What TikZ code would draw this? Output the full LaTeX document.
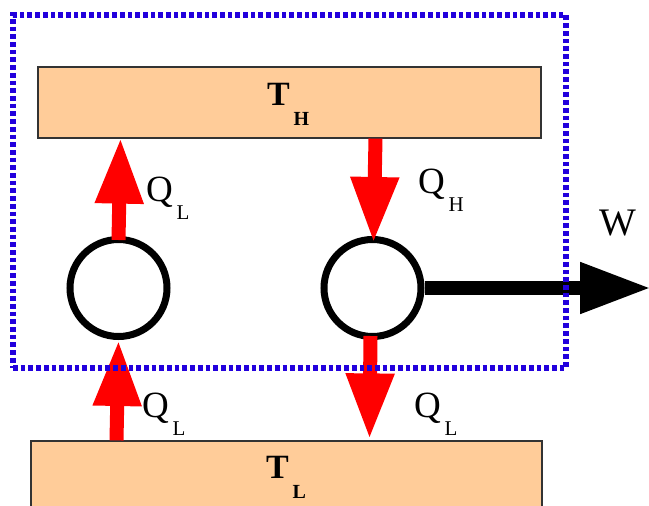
\documentclass[tikz,border=0pt]{standalone}
\usepackage{fontspec}
\setmainfont{Liberation Serif}
\usetikzlibrary{arrows.meta}
\definecolor{peach}{RGB}{255,204,153}
\definecolor{bordblue}{RGB}{34,0,221}
\newcommand\qlab[2]{\fontsize{37}{37}\selectfont #1\hspace{4pt}\raisebox{-18pt}{\fontsize{21}{21}\selectfont #2}}
\newcommand\tlab[2]{\bfseries\fontsize{34}{34}\selectfont #1\hspace{4pt}\raisebox{-20pt}{\fontsize{20}{20}\selectfont #2}}
\tikzset{
  reservoir/.style={draw=black!80, line width=1.2pt, fill=peach, inner sep=0pt},
  ring/.style={circle, draw=black, line width=7pt, minimum size=97pt, inner sep=0pt},
  heat/.style={draw=red, line width=14pt, -{Triangle[length=66pt,width=45pt]}},
  work/.style={draw=black, line width=14pt, -{Triangle[length=71pt,width=48pt]}},
  system/.style={draw=bordblue, line width=6.5pt, dash pattern=on 4.7pt off 3pt},
  lab/.style={anchor=base west, inner sep=0pt, outer sep=0pt}
}
\begin{document}
\begin{tikzpicture}[x=1pt,y=-1pt]
\useasboundingbox (0,0) rectangle (649,506);
\clip (0,0) rectangle (649,506);
% reservoirs
\node[reservoir, minimum width=503pt, minimum height=71pt] (TH) at (289.5,102.5) {};
\node[reservoir, minimum width=511pt, minimum height=90pt] (TL) at (286.5,486) {};
% engine cycles
\node[ring] (c1) at (118.5,288) {};
\node[ring] (c2) at (372.5,288) {};
% heat flows (yshift is in page points: positive moves up)
\draw[heat] ([yshift=-4pt]c1.north) -- ([xshift=2pt,yshift=1pt]c1.north |- TH.south);
\draw[heat] ([xshift=3pt]c2.north |- TH.south) -- ([xshift=1pt,yshift=-7pt]c2.north);
\draw[heat] ([xshift=-2pt]c1.south |- TL.north) -- (c1.south);
\draw[heat] ([xshift=-2pt,yshift=4pt]c2.south) -- ([xshift=-3pt,yshift=1pt]c2.south |- TL.north);
% work
\coordinate (wend) at (651,288);
\draw[work] (c2.east) -- (wend);
% system boundary
\node[system, minimum width=553pt, minimum height=353pt, inner sep=0pt] (sys) at (289.5,191.5) {};
% labels
\node[lab] (lTH) at (267,105) {\tlab{T}{H}};
\node[lab] (lTL) at (266,478) {\tlab{T}{L}};
\node[lab] (lq1) at (146,201) {\qlab{Q}{L}};
\node[lab] (lq2) at (418,193) {\qlab{Q}{H}};
\node[lab] (lq3) at (142,417) {\qlab{Q}{L}};
\node[lab] (lq4) at (414,417) {\qlab{Q}{L}};
\node[lab] (lw) at (599,235) {\fontsize{39}{39}\selectfont W};
\end{tikzpicture}
\end{document}
